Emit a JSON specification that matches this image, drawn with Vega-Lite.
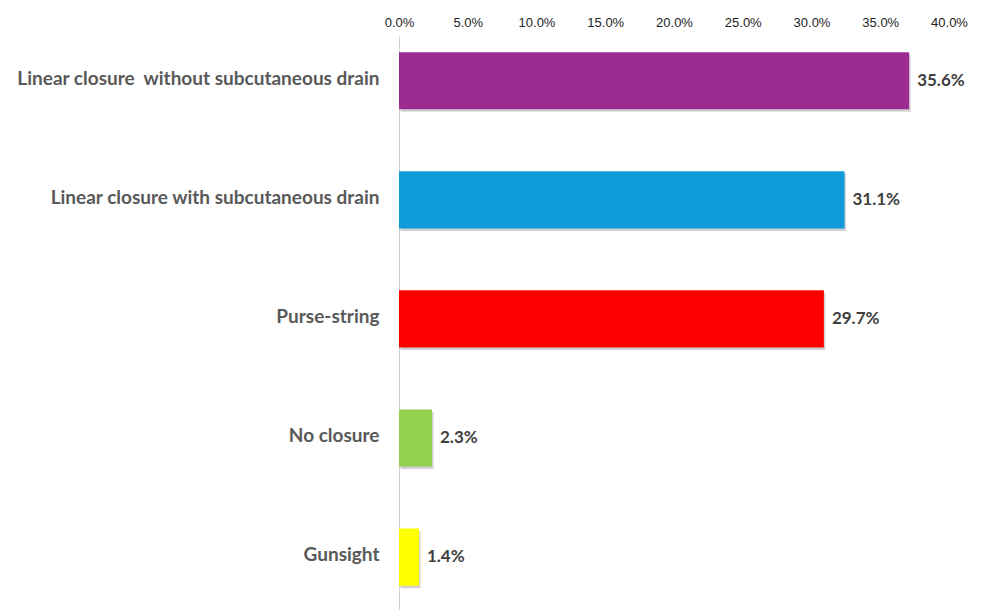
{
  "$schema": "https://vega.github.io/schema/vega-lite/v6.json",
  "width": 550,
  "height": 574,
  "autosize": {"type": "none"},
  "padding": {"left": 399, "top": 36, "right": 33, "bottom": 0},
  "background": "white",
  "config": {"view": {"stroke": null}},
  "data": {
    "values": [
      {"cat": "Linear closure\u00a0 without subcutaneous drain", "v": 37.1, "label": "35.6%"},
      {"cat": "Linear closure with subcutaneous drain", "v": 32.4, "label": "31.1%"},
      {"cat": "Purse-string", "v": 30.9, "label": "29.7%"},
      {"cat": "No closure", "v": 2.4, "label": "2.3%"},
      {"cat": "Gunsight", "v": 1.45, "label": "1.4%"}
    ]
  },
  "encoding": {
    "y": {
      "field": "cat",
      "type": "nominal",
      "sort": null,
      "scale": {"paddingInner": 0.52, "paddingOuter": 0.17, "align": 0.4},
      "axis": {
        "orient": "left",
        "title": null,
        "domain": true,
        "domainColor": "#d0d0d0",
        "domainWidth": 1,
        "ticks": false,
        "grid": false,
        "labelPadding": 20,
        "labelFont": "Lato",
        "labelFontWeight": "bold",
        "labelFontSize": 19,
        "labelColor": "#595959",
        "labelLimit": 500,
        "labelOffset": -2
      }
    },
    "x": {
      "field": "v",
      "type": "quantitative",
      "scale": {"domain": [0, 40], "nice": false},
      "axis": {
        "orient": "top",
        "title": null,
        "domain": false,
        "ticks": false,
        "grid": false,
        "values": [0, 5, 10, 15, 20, 25, 30, 35, 40],
        "labelExpr": "format(datum.value, '.1f') + '%'",
        "labelFont": "Liberation Sans",
        "labelFontSize": 13,
        "labelColor": "#222222",
        "labelPadding": 7,
        "labelFlush": false
      }
    }
  },
  "layer": [
    {
      "mark": {"type": "bar", "color": "#000000", "opacity": 0.18, "xOffset": 1.5, "x2Offset": 1.5, "yOffset": 2.5, "y2Offset": 2.5}
    },
    {
      "mark": {"type": "bar"},
      "encoding": {
        "color": {
          "field": "cat",
          "type": "nominal",
          "legend": null,
          "scale": {
            "domain": ["Linear closure\u00a0 without subcutaneous drain", "Linear closure with subcutaneous drain", "Purse-string", "No closure", "Gunsight"],
            "range": ["#9C2B90", "#0F9BD7", "#FF0000", "#92D050", "#FFFF00"]
          }
        }
      }
    },
    {
      "mark": {"type": "text", "align": "left", "baseline": "middle", "dx": 8, "font": "Lato", "fontWeight": "bold", "fontSize": 17, "color": "#404040"},
      "encoding": {"text": {"field": "label"}}
    }
  ]
}
